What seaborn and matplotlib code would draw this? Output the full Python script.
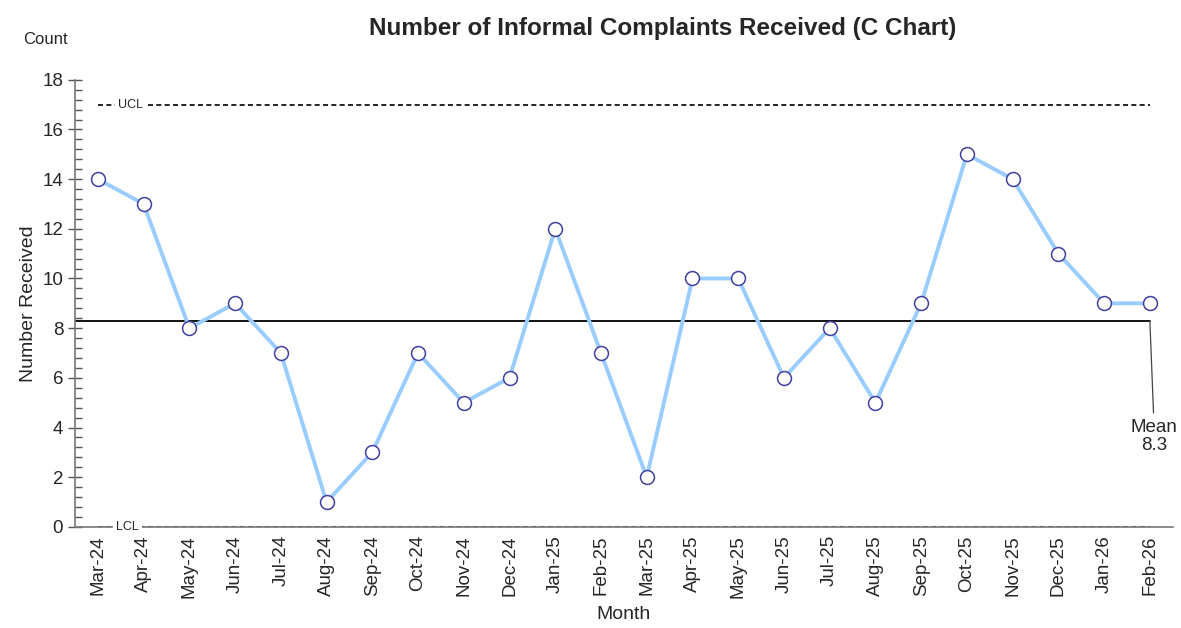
import numpy as np
import pandas as pd
import matplotlib
matplotlib.use('Agg')
import matplotlib.pyplot as plt
import seaborn as sns
from matplotlib.ticker import MultipleLocator, FixedLocator

# chart data
months = ['Mar-24', 'Apr-24', 'May-24', 'Jun-24', 'Jul-24', 'Aug-24', 'Sep-24', 'Oct-24',
          'Nov-24', 'Dec-24', 'Jan-25', 'Feb-25', 'Mar-25', 'Apr-25', 'May-25', 'Jun-25',
          'Jul-25', 'Aug-25', 'Sep-25', 'Oct-25', 'Nov-25', 'Dec-25', 'Jan-26', 'Feb-26']
counts = [14, 13, 8, 9, 7, 1, 3, 7, 5, 6, 12, 7, 2, 10, 10, 6, 8, 5, 9, 15, 14, 11, 9, 9]

mean_val = 8.3
ucl = 17.0
lcl = 0.0

df = pd.DataFrame({'pos': np.arange(len(months)), 'Month': months, 'Count': counts})

sns.set_style('white')
plt.rcParams['font.family'] = ['Liberation Sans', 'DejaVu Sans']

fig = plt.figure(figsize=(11.81, 6.28), dpi=100)
ax = fig.add_axes([0.0635, 0.161, 0.9295, 0.712])

n = len(months)

# control limits
ax.plot([0, n - 1], [ucl, ucl], color='black', linestyle=(0, (3, 2)), linewidth=1.2, zorder=2)
ax.plot([0, n - 1], [lcl, lcl], color='black', linestyle=(0, (3, 2)), linewidth=1.2, zorder=2)
ax.text(0.72, ucl, 'UCL', fontsize=9, ha='center', va='center',
        bbox=dict(facecolor='white', edgecolor='none', pad=2.5), zorder=3)
ax.text(0.65, lcl, 'LCL', fontsize=9, ha='center', va='center',
        bbox=dict(facecolor='white', edgecolor='none', pad=2.5), zorder=3)

# mean line
ax.plot([-0.5, n - 1], [mean_val, mean_val], color='black', linewidth=1.3, zorder=2)
ax.annotate('Mean\n' + str(mean_val), xy=(n - 1, mean_val), xytext=(n - 1 + 0.1, 3.65),
            ha='center', va='center', fontsize=13.5, linespacing=1.05,
            arrowprops=dict(arrowstyle='-', color='#444444', linewidth=0.9,
                            shrinkA=2, shrinkB=0))

sns.lineplot(data=df, x='pos', y='Count', ax=ax, color='#99ccff', linewidth=2.8,
             marker='o', markersize=10, markerfacecolor='white',
             markeredgecolor='#4040a0', markeredgewidth=1.1, zorder=4)

ax.set_xlim(-0.5, n - 0.5)
ax.set_ylim(0, 18)

ax.set_xticks(np.arange(n))
ax.set_xticklabels(months, rotation=90, fontsize=13.5)
ax.xaxis.set_minor_locator(FixedLocator(np.arange(n) + 0.5))
ax.tick_params(axis='x', which='major', length=0, pad=6)
ax.tick_params(axis='x', which='minor', length=6, direction='in', color='#555555', width=1)

ax.yaxis.set_major_locator(MultipleLocator(2))
ax.yaxis.set_minor_locator(MultipleLocator(0.4))
ax.tick_params(axis='y', which='major', length=10, direction='inout', color='#555555',
               width=1, labelsize=13.5, left=True)
ax.tick_params(axis='y', which='minor', length=5, direction='in', color='#555555',
               width=1, left=True)

for side in ['top', 'right']:
    ax.spines[side].set_visible(False)
for side in ['left', 'bottom']:
    ax.spines[side].set_color('#777777')
    ax.spines[side].set_linewidth(1.2)

ax.set_xlabel('Month', fontsize=14, labelpad=6)
ax.set_ylabel('Number Received', fontsize=14, labelpad=4)

fig.text(0.0385, 0.937, 'Count', fontsize=12, ha='center', va='center')
fig.text(0.561, 0.955, 'Number of Informal Complaints Received (C Chart)',
         fontsize=17.5, fontweight='bold', ha='center', va='center')

fig.savefig('out.png', dpi=100)
